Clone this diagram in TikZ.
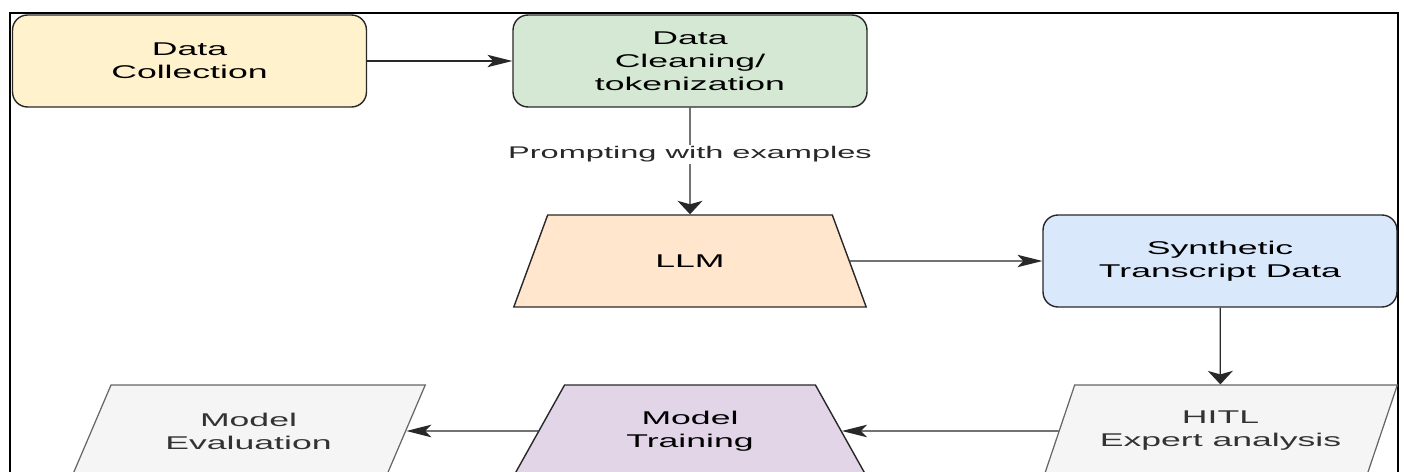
\documentclass[tikz,border=0pt]{standalone}
\usepackage{fontspec}
\setmainfont{Liberation Sans}[FakeStretch=1.93]
\usepackage{xcolor}
\usepackage{tikz}
\usetikzlibrary{arrows.meta,shapes.geometric}
\definecolor{edgegray}{RGB}{40,40,40}
\definecolor{collectfill}{RGB}{255,242,204}
\definecolor{cleanfill}{RGB}{213,232,212}
\definecolor{llmfill}{RGB}{255,230,204}
\definecolor{synthfill}{RGB}{218,232,252}
\definecolor{trainfill}{RGB}{225,213,231}
\definecolor{parafill}{RGB}{245,245,245}
\definecolor{paraline}{RGB}{102,102,102}
\definecolor{paratext}{RGB}{51,51,51}

\begin{document}
\begin{tikzpicture}[
    x=0.02cm, y=-0.02cm,
    boxfont/.style={font=\fontsize{10.5}{13.1}\selectfont},
    procbox/.style={rectangle, rounded corners=0.3cm, draw=edgegray, line width=0.8pt, minimum width=7.08cm, minimum height=1.84cm, inner sep=0pt, align=center, boxfont},
    modelnode/.style={trapezium, trapezium left angle=57, trapezium right angle=57, trapezium stretches, draw=edgegray, line width=0.8pt, minimum width=7.08cm, minimum height=1.84cm, inner sep=0pt, align=center, boxfont},
    reportnode/.style={trapezium, trapezium left angle=57, trapezium right angle=123, trapezium stretches, draw=paraline, fill=parafill, text=paratext, line width=0.7pt, minimum width=7.08cm, minimum height=1.84cm, inner sep=0pt, align=center, boxfont},
    harrow/.style={-{Stealth[length=0.5cm, width=0.25cm, inset=0.12cm]}, edgegray, line width=0.7pt},
    varrow/.style={-{Stealth[length=0.27cm, width=0.5cm, inset=0.07cm]}, edgegray, line width=0.7pt}
]
\clip (0,0) rectangle (1404,472);
\draw[line width=1.2pt] (10,600) -- (10,13) -- (1398,13) -- (1398,600);

\node[procbox, fill=collectfill] (collect) at (189.5,61) {Data\\Collection};
\node[procbox, fill=cleanfill] (clean) at (690,61) {Data\\Cleaning/\\tokenization};

\node[modelnode, fill=llmfill] (llm) at (690,261) {LLM};
\node[procbox, fill=synthfill] (synth) at (1220,261) {Synthetic\\Transcript Data};

\node[reportnode] (eval) at (248.5,431) {Model\\Evaluation};
\node[modelnode, fill=trainfill] (train) at (690,431) {Model\\Training};
\node[reportnode] (hitl) at (1220.5,431) {HITL\\Expert analysis};

\draw[harrow] (collect) -- (clean);
\draw[varrow] (clean) -- node[pos=0.44, fill=white, inner sep=1pt, font=\fontsize{9.6}{12}\selectfont] (prompt) {Prompting with examples} (llm);
\draw[harrow] (llm) -- (synth);
\draw[varrow] (synth) -- (hitl);
\draw[harrow] (hitl) -- (train);
\draw[harrow] (train) -- (eval);
\end{tikzpicture}
\end{document}
